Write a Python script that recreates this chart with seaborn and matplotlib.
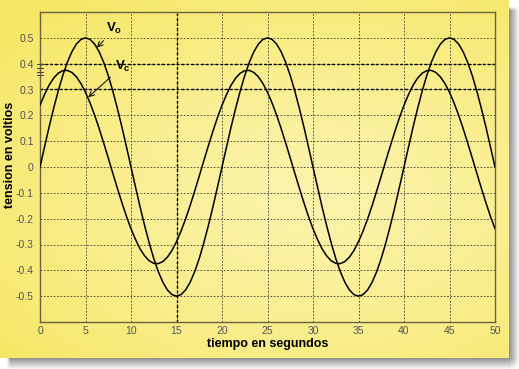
import numpy as np
import pandas as pd
import matplotlib
matplotlib.use("Agg")
import matplotlib.pyplot as plt
import seaborn as sns

# ---- data ----
t = [0.0, 0.5, 1.0, 1.5, 2.0, 2.5, 3.0, 3.5, 4.0, 4.5, 5.0, 5.5, 6.0, 6.5, 7.0, 7.5, 8.0, 8.5, 9.0, 9.5,
     10.0, 10.5, 11.0, 11.5, 12.0, 12.5, 13.0, 13.5, 14.0, 14.5, 15.0, 15.5, 16.0, 16.5, 17.0, 17.5, 18.0, 18.5, 19.0, 19.5,
     20.0, 20.5, 21.0, 21.5, 22.0, 22.5, 23.0, 23.5, 24.0, 24.5, 25.0, 25.5, 26.0, 26.5, 27.0, 27.5, 28.0, 28.5, 29.0, 29.5,
     30.0, 30.5, 31.0, 31.5, 32.0, 32.5, 33.0, 33.5, 34.0, 34.5, 35.0, 35.5, 36.0, 36.5, 37.0, 37.5, 38.0, 38.5, 39.0, 39.5,
     40.0, 40.5, 41.0, 41.5, 42.0, 42.5, 43.0, 43.5, 44.0, 44.5, 45.0, 45.5, 46.0, 46.5, 47.0, 47.5, 48.0, 48.5, 49.0, 49.5,
     50.0]

v0 = [0.0, 0.078, 0.155, 0.227, 0.294, 0.354, 0.405, 0.446, 0.476, 0.494, 0.5, 0.494, 0.476, 0.446, 0.405, 0.354, 0.294, 0.227, 0.155, 0.078,
      0.0, -0.078, -0.155, -0.227, -0.294, -0.354, -0.405, -0.446, -0.476, -0.494, -0.5, -0.494, -0.476, -0.446, -0.405, -0.354, -0.294, -0.227, -0.155, -0.078,
      0.0, 0.078, 0.155, 0.227, 0.294, 0.354, 0.405, 0.446, 0.476, 0.494, 0.5, 0.494, 0.476, 0.446, 0.405, 0.354, 0.294, 0.227, 0.155, 0.078,
      0.0, -0.078, -0.155, -0.227, -0.294, -0.354, -0.405, -0.446, -0.476, -0.494, -0.5, -0.494, -0.476, -0.446, -0.405, -0.354, -0.294, -0.227, -0.155, -0.078,
      0.0, 0.078, 0.155, 0.227, 0.294, 0.354, 0.405, 0.446, 0.476, 0.494, 0.5, 0.494, 0.476, 0.446, 0.405, 0.354, 0.294, 0.227, 0.155, 0.078,
      0.0]

vc = [0.239, 0.281, 0.317, 0.344, 0.363, 0.373, 0.374, 0.366, 0.349, 0.323, 0.289, 0.248, 0.201, 0.149, 0.093, 0.035, -0.024, -0.082, -0.138, -0.191,
      -0.239, -0.281, -0.317, -0.344, -0.363, -0.373, -0.374, -0.366, -0.349, -0.323, -0.289, -0.248, -0.201, -0.149, -0.093, -0.035, 0.024, 0.082, 0.138, 0.191,
      0.239, 0.281, 0.317, 0.344, 0.363, 0.373, 0.374, 0.366, 0.349, 0.323, 0.289, 0.248, 0.201, 0.149, 0.093, 0.035, -0.024, -0.082, -0.138, -0.191,
      -0.239, -0.281, -0.317, -0.344, -0.363, -0.373, -0.374, -0.366, -0.349, -0.323, -0.289, -0.248, -0.201, -0.149, -0.093, -0.035, 0.024, 0.082, 0.138, 0.191,
      0.239, 0.281, 0.317, 0.344, 0.363, 0.373, 0.374, 0.366, 0.349, 0.323, 0.289, 0.248, 0.201, 0.149, 0.093, 0.035, -0.024, -0.082, -0.138, -0.191,
      -0.239]

xticks = [0, 5, 10, 15, 20, 25, 30, 35, 40, 45, 50]
yticks = [-0.5, -0.4, -0.3, -0.2, -0.1, 0, 0.1, 0.2, 0.3, 0.4, 0.5]
ytick_labels = ["-0.5", "-0.4", "-0.3", "-0.2", "-0.1", "0", "0.1", "0.2", "0.3", "0.4", "0.5"]
xlabel = "tiempo en segundos"
ylabel = "tension en voltios"

df = pd.DataFrame({"t": t + t, "v": v0 + vc,
                   "serie": ["V0"] * len(t) + ["Vc"] * len(t)})

sns.set_style("white")
plt.rcParams["font.family"] = ["Liberation Sans", "DejaVu Sans"]
plt.rcParams["mathtext.fontset"] = "custom"
plt.rcParams["mathtext.bf"] = "Liberation Sans:bold"
plt.rcParams["mathtext.rm"] = "Liberation Sans"

W, H = 519, 369
fig = plt.figure(figsize=(W / 100, H / 100), dpi=100)

# ---- background: shadow + yellow gradient card ----
yy, xx = np.mgrid[0:H, 0:W].astype(float)
def ramp(d, w):
    return np.clip(d / w, 0, 1)
s = ramp(519 - xx, 10) * ramp(xx - 6, 4) * ramp(369 - yy, 11) * ramp(yy - 6, 4)
bg = np.ones((H, W, 3)) * (1 - 0.42 * s)[..., None]
u = xx / 509.0
v = yy / 358.0
d = np.sqrt(((u - 0.62) / 1.0) ** 2 + ((v - 0.55) / 0.9) ** 2)
w = np.clip(d / 0.8, 0, 1) ** 1.3
light = np.array([251, 243, 172]) / 255.0
sat = np.array([246, 231, 100]) / 255.0
grad = light * (1 - w[..., None]) + sat * w[..., None]
card = (xx < 509) & (yy < 358)
bg[card] = grad[card]
fig.figimage(bg, xo=0, yo=0, origin="upper", zorder=-5)

ax = fig.add_axes([40 / W, 1 - 322 / H, (495 - 40) / W, (322 - 12) / H])
ax.set_facecolor("none")
ax.set_zorder(1)

sns.lineplot(data=df, x="t", y="v", units="serie", estimator=None, color="black",
             linewidth=1.1, ax=ax, legend=False, zorder=5)

ax.set_xlim(0, 50)
ax.set_ylim(-0.6, 0.6)
ax.set_xticks(xticks)
ax.set_yticks(yticks)
ax.set_yticklabels(ytick_labels)
ax.tick_params(axis="both", direction="in", length=3, width=0.8, color="#6b6340",
               labelsize=7.5, labelcolor="#555555")
ax.tick_params(axis="y", pad=4.5)
ax.tick_params(axis="x", pad=3)

grid_kw = dict(color="#3a3a2a", linestyle=(0, (2, 2)), linewidth=0.6, zorder=1)
for xv in xticks[1:-1]:
    ax.axvline(xv, **grid_kw)
for yv in yticks:
    ax.axhline(yv, **grid_kw)
# emphasised grid lines
strong = dict(color="black", linestyle=(0, (2, 1.5)), linewidth=1.0, zorder=2)
ax.axhline(0.4, **strong)
ax.axhline(0.3, **strong)
ax.axvline(15, **strong)

for sp in ax.spines.values():
    sp.set_color("#6b6340")
    sp.set_linewidth(1.0)

# small marks on the y axis
for ym in [0.4, 0.382, 0.369, 0.356]:
    ax.plot([-0.3, 0.3], [ym, ym], color="#444444", lw=0.8, clip_on=False, zorder=6)

ax.set_xlabel(xlabel, fontsize=9, fontweight="bold", color="black", labelpad=1)
ax.set_ylabel(ylabel, fontsize=9, fontweight="bold", color="black")
ax.yaxis.set_label_coords(-0.052, 0.54)

ax.annotate(r"$\mathbf{V_o}$", xy=(6.25, 0.462), xytext=(7.3, 0.535),
            fontsize=9.5, color="black", ha="left", va="center",
            arrowprops=dict(arrowstyle="->", color="black", lw=0.7, shrinkA=1, shrinkB=0), zorder=7)
ax.annotate(r"$\mathbf{V_c}$", xy=(5.3, 0.27), xytext=(8.2, 0.39),
            fontsize=9.5, color="black", ha="left", va="center",
            arrowprops=dict(arrowstyle="->", color="black", lw=0.7, shrinkA=1, shrinkB=0), zorder=7)

fig.savefig("out.png", dpi=100)
